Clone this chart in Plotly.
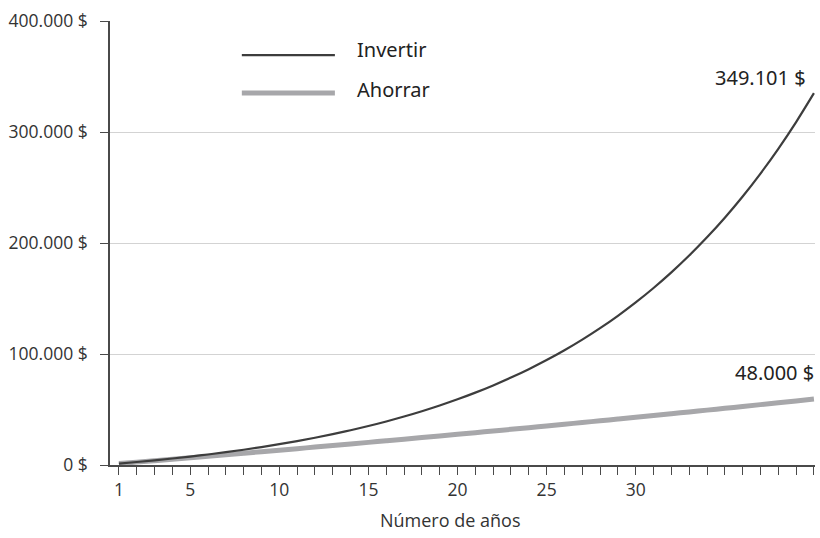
import plotly.graph_objects as go

# ---- data ----
years = list(range(1, 41))
invertir = [1293, 2689, 4197, 5826, 7586, 9485, 11537, 13754, 16147, 18732,
            21522, 24537, 27793, 31310, 35108, 39209, 43639, 48423, 53590, 59170,
            65197, 71706, 78735, 86327, 94526, 103381, 112945, 123273, 134428, 146475,
            159486, 173539, 188715, 205105, 222806, 241923, 262570, 284869, 308951, 334961]
ahorrar = [1293, 2595, 3906, 5227, 6556, 7895, 9243, 10600, 11968, 13344,
           14731, 16127, 17533, 18949, 20374, 21810, 23256, 24712, 26177, 27653,
           29140, 30636, 32144, 33662, 35190, 36729, 38279, 39840, 41412, 42995,
           44589, 46194, 47810, 49438, 51076, 52727, 54389, 56063, 57748, 59446]
y_tick_vals = [0, 100000, 200000, 300000, 400000]
y_tick_text = ["0 $", "100.000 $", "200.000 $", "300.000 $", "400.000 $"]
x_label_years = [1, 5, 10, 15, 20, 25, 30]
series_names = ["Invertir", "Ahorrar"]
end_labels = ["349.101 $", "48.000 $"]
x_title = "Número de años"

# ---- styles ----
c_inv = "#3d3d3d"
c_aho = "#a7a7aa"
axis_col = "#4a4a4a"
tick_font = dict(family="Open Sans, Noto Sans, sans-serif", size=17.5, color="#333333")
hand_font = dict(family="Noto Sans, DejaVu Sans, sans-serif", size=20, color="#222222")

fig = go.Figure()
fig.add_trace(go.Scatter(x=years, y=ahorrar, mode="lines", name=series_names[1],
                         line=dict(color=c_aho, width=5, shape="spline"), showlegend=False,
                         hoverinfo="skip"))
fig.add_trace(go.Scatter(x=years, y=invertir, mode="lines", name=series_names[0],
                         line=dict(color=c_inv, width=2.2, shape="spline"), showlegend=False,
                         hoverinfo="skip"))

x_text = [str(y) if y in x_label_years else "" for y in years]

fig.update_layout(
    width=820, height=538,
    margin=dict(l=110, r=5, t=21, b=73),
    paper_bgcolor="white", plot_bgcolor="white",
    xaxis=dict(range=[0.5, 40.06], tickmode="array", tickvals=years, ticktext=x_text,
               ticks="outside", ticklen=8, tickwidth=1.3, tickcolor=axis_col,
               showline=True, linecolor=axis_col, linewidth=1.5, automargin=False,
               showgrid=False, zeroline=False, tickfont=tick_font),
    yaxis=dict(range=[0, 400000], tickmode="array", tickvals=y_tick_vals, ticktext=y_tick_text,
               ticks="outside", ticklen=8, tickwidth=1.3, tickcolor=axis_col,
               showline=True, linecolor=axis_col, linewidth=1.5, automargin=False,
               showgrid=True, gridcolor="#d3d3d3", gridwidth=1, zeroline=False,
               tickfont=tick_font, ticklabelstandoff=9),
)

# x-axis title
fig.add_annotation(xref="paper", yref="paper", x=0.482, y=0, yshift=-55, text=x_title,
                   showarrow=False, xanchor="center", yanchor="middle",
                   font=dict(family="Open Sans, Noto Sans, sans-serif", size=18, color="#333333"))

# legend drawn manually (long line samples)
legend_rows = [(0.923, 0.935, c_inv, 2.2), (0.838, 0.846, c_aho, 5)]
for name, (ly, ty, col, w) in zip(series_names, legend_rows):
    fig.add_shape(type="line", xref="paper", yref="paper", x0=0.187, x1=0.319, y0=ly, y1=ly,
                  line=dict(color=col, width=w))
    fig.add_annotation(xref="paper", yref="paper", x=0.347, y=ty, text=name, showarrow=False,
                       xanchor="left", yanchor="middle", font=hand_font)

# end labels
fig.add_annotation(x=years[-1], y=349101, xref="x", yref="y", text=end_labels[0], showarrow=False,
                   xanchor="right", yanchor="middle", xshift=-6, font=hand_font)
fig.add_annotation(x=years[-1], y=83000, xref="x", yref="y", text=end_labels[1], showarrow=False,
                   xanchor="right", yanchor="middle", xshift=2, font=hand_font)

# remove the default 8px page margin so the figure fills the window exactly
fig.write_html("out.html", config={"displayModeBar": False},
               post_script="document.body.style.margin='0px';")
